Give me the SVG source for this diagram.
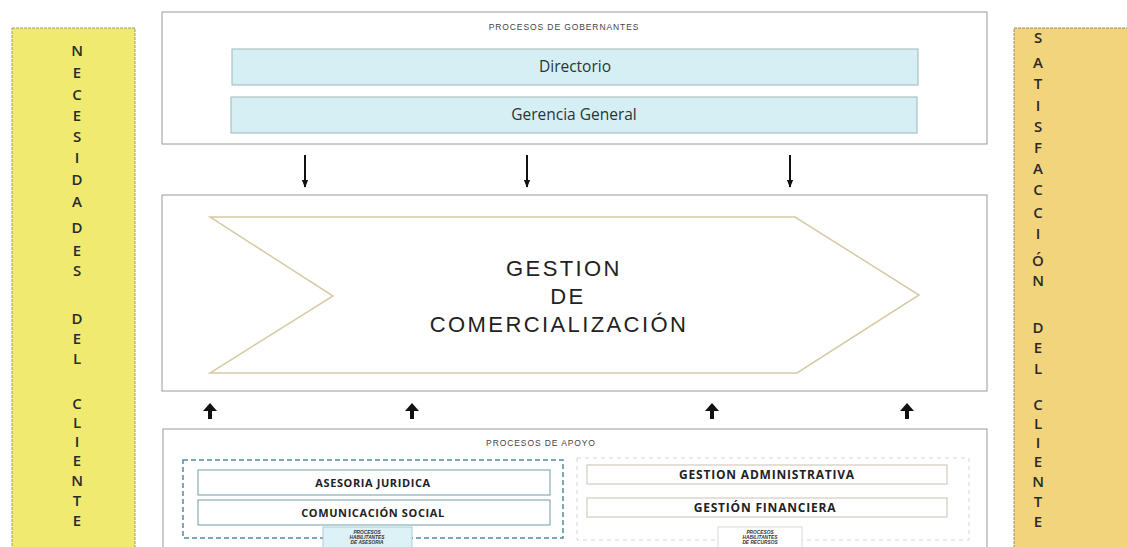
<svg xmlns="http://www.w3.org/2000/svg" width="1127" height="547" viewBox="0 0 1127 547">
<defs>
<style>
.col-l{fill:#F0EA70;stroke:#9a9a7a;stroke-width:1;stroke-dasharray:3 1}
.col-r{fill:#F2D47C;stroke:#9a8a6a;stroke-width:1;stroke-dasharray:3 1}
.vl{font-family:"Open Sans","Liberation Sans",sans-serif;font-size:15px;font-weight:600;fill:#2a2a2a;text-anchor:middle}
.frame{fill:#ffffff;stroke:#9a9a9a;stroke-width:1}
.ttl{font-family:"Liberation Sans",Arial,sans-serif;font-size:8.5px;fill:#444;text-anchor:middle;letter-spacing:0.9px}
.bar{fill:#D6EFF4;stroke:#9fb5b8;stroke-width:1}
.bartx{font-family:"Open Sans","Liberation Sans",sans-serif;font-size:15.5px;fill:#2a3438;text-anchor:middle}
.chev{fill:#ffffff;stroke:#D8C9A6;stroke-width:1.5}
.big{font-family:"Liberation Sans",Arial,sans-serif;font-size:22px;fill:#222;text-anchor:middle;letter-spacing:2.4px}
.dn{stroke:#111;stroke-width:2;fill:none}
.up{fill:#111}
.grpA{fill:none;stroke:#4D8E9E;stroke-width:1.5;stroke-dasharray:5 3}
.grpB{fill:none;stroke:#d6d6d6;stroke-width:1;stroke-dasharray:4 4}
.boxA{fill:#ffffff;stroke:#6E9CA6;stroke-width:1}
.boxB{fill:#ffffff;stroke:#C9C2B0;stroke-width:1}
.btx{font-family:"Open Sans","Liberation Sans",sans-serif;font-size:11px;font-weight:bold;fill:#222;text-anchor:middle;letter-spacing:0.6px}
.btx2{font-family:"Open Sans","Liberation Sans",sans-serif;font-size:12px;font-weight:bold;fill:#222;text-anchor:middle;letter-spacing:0.8px}
.tag{fill:#DDF2F7;stroke:#9cc3cc;stroke-width:0.8}
.tagB{fill:#ffffff;stroke:#d0d0d0;stroke-width:0.8}
.tiny{font-family:"Liberation Sans",Arial,sans-serif;font-size:4.8px;font-weight:bold;font-style:italic;fill:#333;text-anchor:middle}
</style>
<marker id="ah" viewBox="0 0 10 10" refX="9" refY="5" markerWidth="4" markerHeight="4" orient="auto" markerUnits="strokeWidth">
<path d="M0,1 L10,5 L0,9 z" fill="#111"/>
</marker>
</defs>
<rect x="0" y="0" width="1127" height="547" fill="#ffffff"/>

<g id="necesidades">
<rect class="col-l" x="12" y="28" width="123" height="530"/>
<text class="vl"><tspan x="77" y="56">N</tspan><tspan x="77" y="78">E</tspan><tspan x="77" y="100">C</tspan><tspan x="77" y="121">E</tspan><tspan x="77" y="142">S</tspan><tspan x="77" y="163">I</tspan><tspan x="77" y="185">D</tspan><tspan x="77" y="207">A</tspan><tspan x="77" y="233">D</tspan><tspan x="77" y="256">E</tspan><tspan x="77" y="276">S</tspan><tspan x="77" y="324">D</tspan><tspan x="77" y="344">E</tspan><tspan x="77" y="364">L</tspan><tspan x="77" y="409">C</tspan><tspan x="77" y="428">L</tspan><tspan x="77" y="447">I</tspan><tspan x="77" y="466">E</tspan><tspan x="77" y="486">N</tspan><tspan x="77" y="506">T</tspan><tspan x="77" y="526">E</tspan></text>
</g>

<g id="satisfaccion">
<rect class="col-r" x="1014" y="28" width="120" height="530"/>
<text class="vl"><tspan x="1038" y="43">S</tspan><tspan x="1038" y="68">A</tspan><tspan x="1038" y="89">T</tspan><tspan x="1038" y="111">I</tspan><tspan x="1038" y="132">S</tspan><tspan x="1038" y="153">F</tspan><tspan x="1038" y="174">A</tspan><tspan x="1038" y="195">C</tspan><tspan x="1038" y="218">C</tspan><tspan x="1038" y="239">I</tspan><tspan x="1038" y="266">Ó</tspan><tspan x="1038" y="286">N</tspan><tspan x="1038" y="333">D</tspan><tspan x="1038" y="353">E</tspan><tspan x="1038" y="374">L</tspan><tspan x="1038" y="410">C</tspan><tspan x="1038" y="429">L</tspan><tspan x="1038" y="448">I</tspan><tspan x="1038" y="467">E</tspan><tspan x="1038" y="487">N</tspan><tspan x="1038" y="507">T</tspan><tspan x="1038" y="527">E</tspan></text>
</g>

<g id="gobernantes">
<rect class="frame" x="162" y="12" width="825" height="132"/>
<text class="ttl" x="564" y="30">PROCESOS DE GOBERNANTES</text>
</g>
<g id="directorio">
<rect class="bar" x="232" y="49" width="686" height="36"/>
<text class="bartx" x="575" y="72">Directorio</text>
</g>
<g id="gerencia">
<rect class="bar" x="231" y="97" width="686" height="36"/>
<text class="bartx" x="574" y="120">Gerencia General</text>
</g>

<g id="comercializacion">
<rect class="frame" x="162" y="195" width="825" height="196"/>
<polygon class="chev" points="210,217 795,217 919,295 797,373 210,373 333,296"/>
<text class="big" x="564" y="276">GESTION</text>
<text class="big" x="568" y="304">DE</text>
<text class="big" x="559" y="332">COMERCIALIZACIÓN</text>
</g>

<g id="apoyo">
<rect class="frame" x="163" y="429" width="824" height="130"/>
<text class="ttl" x="541" y="446">PROCESOS DE APOYO</text>
</g>

<g id="asesoria-grupo">
<rect class="grpA" x="183" y="460" width="380" height="78"/>
</g>
<g id="asesoria-juridica">
<rect class="boxA" x="198" y="470" width="352" height="25"/>
<text class="btx" x="373" y="487">ASESORIA JURIDICA</text>
</g>
<g id="comunicacion-social">
<rect class="boxA" x="198" y="500" width="352" height="25"/>
<text class="btx" x="373" y="517">COMUNICACIÓN SOCIAL</text>
</g>
<g id="habilitantes-asesoria">
<rect class="tag" x="323" y="527" width="89" height="26"/>
<text class="tiny"><tspan x="367" y="534">PROCESOS</tspan><tspan x="367" y="539">HABILITANTES</tspan><tspan x="367" y="544">DE ASESORIA</tspan></text>
</g>

<g id="recursos-grupo">
<rect class="grpB" x="577" y="458" width="392" height="82"/>
</g>
<g id="gestion-administrativa">
<rect class="boxB" x="587" y="465" width="360" height="19"/>
<text class="btx2" x="767" y="479">GESTION ADMINISTRATIVA</text>
</g>
<g id="gestion-financiera">
<rect class="boxB" x="587" y="498" width="360" height="19"/>
<text class="btx2" x="765" y="512">GESTIÓN FINANCIERA</text>
</g>
<g id="habilitantes-recursos">
<rect class="tagB" x="718" y="527" width="84" height="26"/>
<text class="tiny"><tspan x="760" y="534">PROCESOS</tspan><tspan x="760" y="539">HABILITANTES</tspan><tspan x="760" y="544">DE RECURSOS</tspan></text>
</g>

<g id="connectors">
<line class="dn" x1="305" y1="155" x2="305" y2="187" marker-end="url(#ah)"/>
<line class="dn" x1="527" y1="155" x2="527" y2="187" marker-end="url(#ah)"/>
<line class="dn" x1="790" y1="155" x2="790" y2="187" marker-end="url(#ah)"/>
<path class="up" d="M210,403 L217,411 L212,411 L212,419 L208,419 L208,411 L203,411 Z"/>
<path class="up" d="M412,403 L419,411 L414,411 L414,419 L410,419 L410,411 L405,411 Z"/>
<path class="up" d="M712,403 L719,411 L714,411 L714,419 L710,419 L710,411 L705,411 Z"/>
<path class="up" d="M907,403 L914,411 L909,411 L909,419 L905,419 L905,411 L900,411 Z"/>
</g>
</svg>
